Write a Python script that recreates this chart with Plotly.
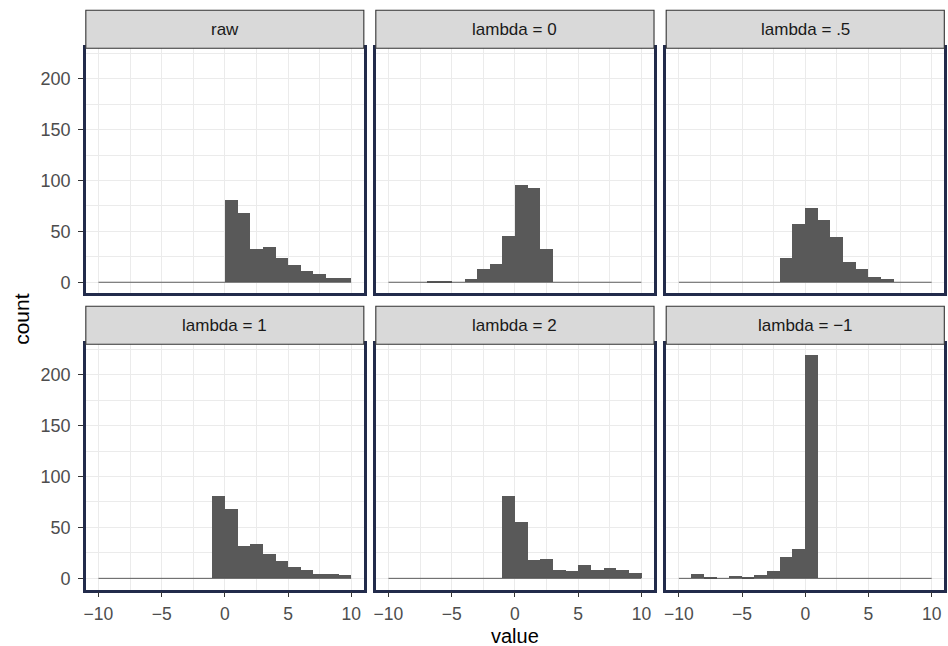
import plotly.graph_objects as go

# ---- data ----
bin_left = list(range(-10, 10))          # bins of width 1 from -10 to 10
panel_titles = ["raw", "lambda = 0", "lambda = .5", "lambda = 1", "lambda = 2", "lambda = \u22121"]

counts_raw    = [0, 0, 0, 0, 0, 0, 0, 0, 0, 0, 81, 68, 32, 34, 24, 17, 11, 8, 4, 4]
counts_l0     = [0, 0, 0, 1, 1, 0, 3, 13, 18, 45, 95, 92, 32, 0, 0, 0, 0, 0, 0, 0]
counts_l05    = [0, 0, 0, 0, 0, 0, 0, 0, 24, 57, 73, 61, 44, 20, 13, 5, 3, 0, 0, 0]
counts_l1     = [0, 0, 0, 0, 0, 0, 0, 0, 0, 81, 68, 32, 34, 24, 17, 11, 8, 4, 4, 3]
counts_l2     = [0, 0, 0, 0, 0, 0, 0, 0, 0, 81, 55, 18, 19, 8, 7, 13, 8, 10, 8, 5]
counts_lm1    = [0, 4, 1, 0, 2, 1, 3, 7, 21, 29, 219, 0, 0, 0, 0, 0, 0, 0, 0, 0]

x_tickvals = [-10, -5, 0, 5, 10]
x_ticktext = ["\u221210", "\u22125", "0", "5", "10"]
y_tickvals = [0, 50, 100, 150, 200]
y_ticktext = ["0", "50", "100", "150", "200"]

all_counts = [counts_raw, counts_l0, counts_l05, counts_l1, counts_l2, counts_lm1]

# ---- geometry ----
W, H = 948, 646
col_px = [(84.0, 362.6), (374.6, 653.4), (665.6, 944.3)]
row_px = [(48.2, 293.4), (344.2, 589.5)]   # top, bottom in pixels
strip_h = 38

BAR = "#595959"
BORDER = "#222b4b"
GRID = "#ebebeb"
FONT = "Liberation Sans, Arial, sans-serif"

centers = [b + 0.5 for b in bin_left]
edge_lo = bin_left[0]
edge_hi = bin_left[-1] + 1

fig = go.Figure()
shapes = []
annotations = []

for i, (title, counts) in enumerate(zip(panel_titles, all_counts)):
    r, c = divmod(i, 3)
    n = i + 1
    xs = "x" if n == 1 else f"x{n}"
    ys = "y" if n == 1 else f"y{n}"
    x0, x1 = col_px[c]
    t, b = row_px[r]
    xd = [x0 / W, x1 / W]
    yd = [1 - b / H, 1 - t / H]

    # baseline of empty bins
    fig.add_trace(go.Scatter(x=[edge_lo, edge_hi], y=[0, 0], mode="lines",
                             line=dict(color="#4d4d4d", width=0.9),
                             hoverinfo="skip", showlegend=False, xaxis=xs, yaxis=ys))
    fig.add_trace(go.Bar(x=centers, y=counts, width=1,
                         marker=dict(color=BAR, line=dict(width=0)),
                         showlegend=False, xaxis=xs, yaxis=ys))

    show_x = (r == 1)
    show_y = (c == 0)
    xa = dict(domain=xd, anchor=ys, range=[-11, 11],
              tickvals=x_tickvals, ticktext=x_ticktext,
              showticklabels=show_x, ticks="outside" if show_x else "",
              ticklen=5, tickwidth=1.1, tickcolor="#333333", ticklabelstandoff=2,
              tickfont=dict(family=FONT, size=17.5, color="#4d4d4d"),
              showgrid=True, gridcolor=GRID, gridwidth=1.4,
              minor=dict(tickvals=[-7.5, -2.5, 2.5, 7.5], showgrid=True,
                         gridcolor=GRID, gridwidth=0.7, ticks=""),
              zeroline=False, showline=True, mirror=True,
              linecolor=BORDER, linewidth=2.6, fixedrange=True)
    ya = dict(domain=yd, anchor=xs, range=[-10.95, 229.95],
              tickvals=y_tickvals, ticktext=y_ticktext,
              showticklabels=show_y, ticks="outside" if show_y else "",
              ticklen=5, tickwidth=1.1, tickcolor="#333333", ticklabelstandoff=4,
              tickfont=dict(family=FONT, size=18, color="#4d4d4d"),
              showgrid=True, gridcolor=GRID, gridwidth=1.4,
              minor=dict(tickvals=[25, 75, 125, 175, 225], showgrid=True,
                         gridcolor=GRID, gridwidth=0.7, ticks=""),
              zeroline=False, showline=True, mirror=True,
              linecolor=BORDER, linewidth=2.6, fixedrange=True)
    fig.layout["xaxis" if n == 1 else f"xaxis{n}"] = xa
    fig.layout["yaxis" if n == 1 else f"yaxis{n}"] = ya

    # strip
    st_top = t - strip_h
    shapes.append(dict(type="rect", xref="paper", yref="paper",
                       x0=x0 / W, x1=x1 / W, y0=1 - t / H, y1=1 - st_top / H,
                       fillcolor="#d9d9d9", line=dict(color="#333333", width=1.1),
                       layer="above"))
    annotations.append(dict(text=title, xref="paper", yref="paper",
                            x=(x0 + x1) / 2 / W, y=1 - (st_top + strip_h / 2) / H,
                            xanchor="center", yanchor="middle", showarrow=False,
                            font=dict(family=FONT, size=17, color="#1a1a1a")))

annotations.append(dict(text="value", xref="paper", yref="paper",
                        x=(col_px[0][0] + col_px[2][1]) / 2 / W, y=1 - 636 / H,
                        xanchor="center", yanchor="middle", showarrow=False,
                        font=dict(family=FONT, size=20, color="black")))
annotations.append(dict(text="count", xref="paper", yref="paper",
                        x=20 / W, y=1 - (row_px[0][0] + row_px[1][1]) / 2 / H,
                        xanchor="center", yanchor="middle", showarrow=False, textangle=-90,
                        font=dict(family=FONT, size=21, color="black")))

fig.update_layout(width=W, height=H, margin=dict(l=0, r=0, t=0, b=0),
                  paper_bgcolor="white", plot_bgcolor="white",
                  shapes=shapes, annotations=annotations, bargap=0)

fig.write_html("out.html")
